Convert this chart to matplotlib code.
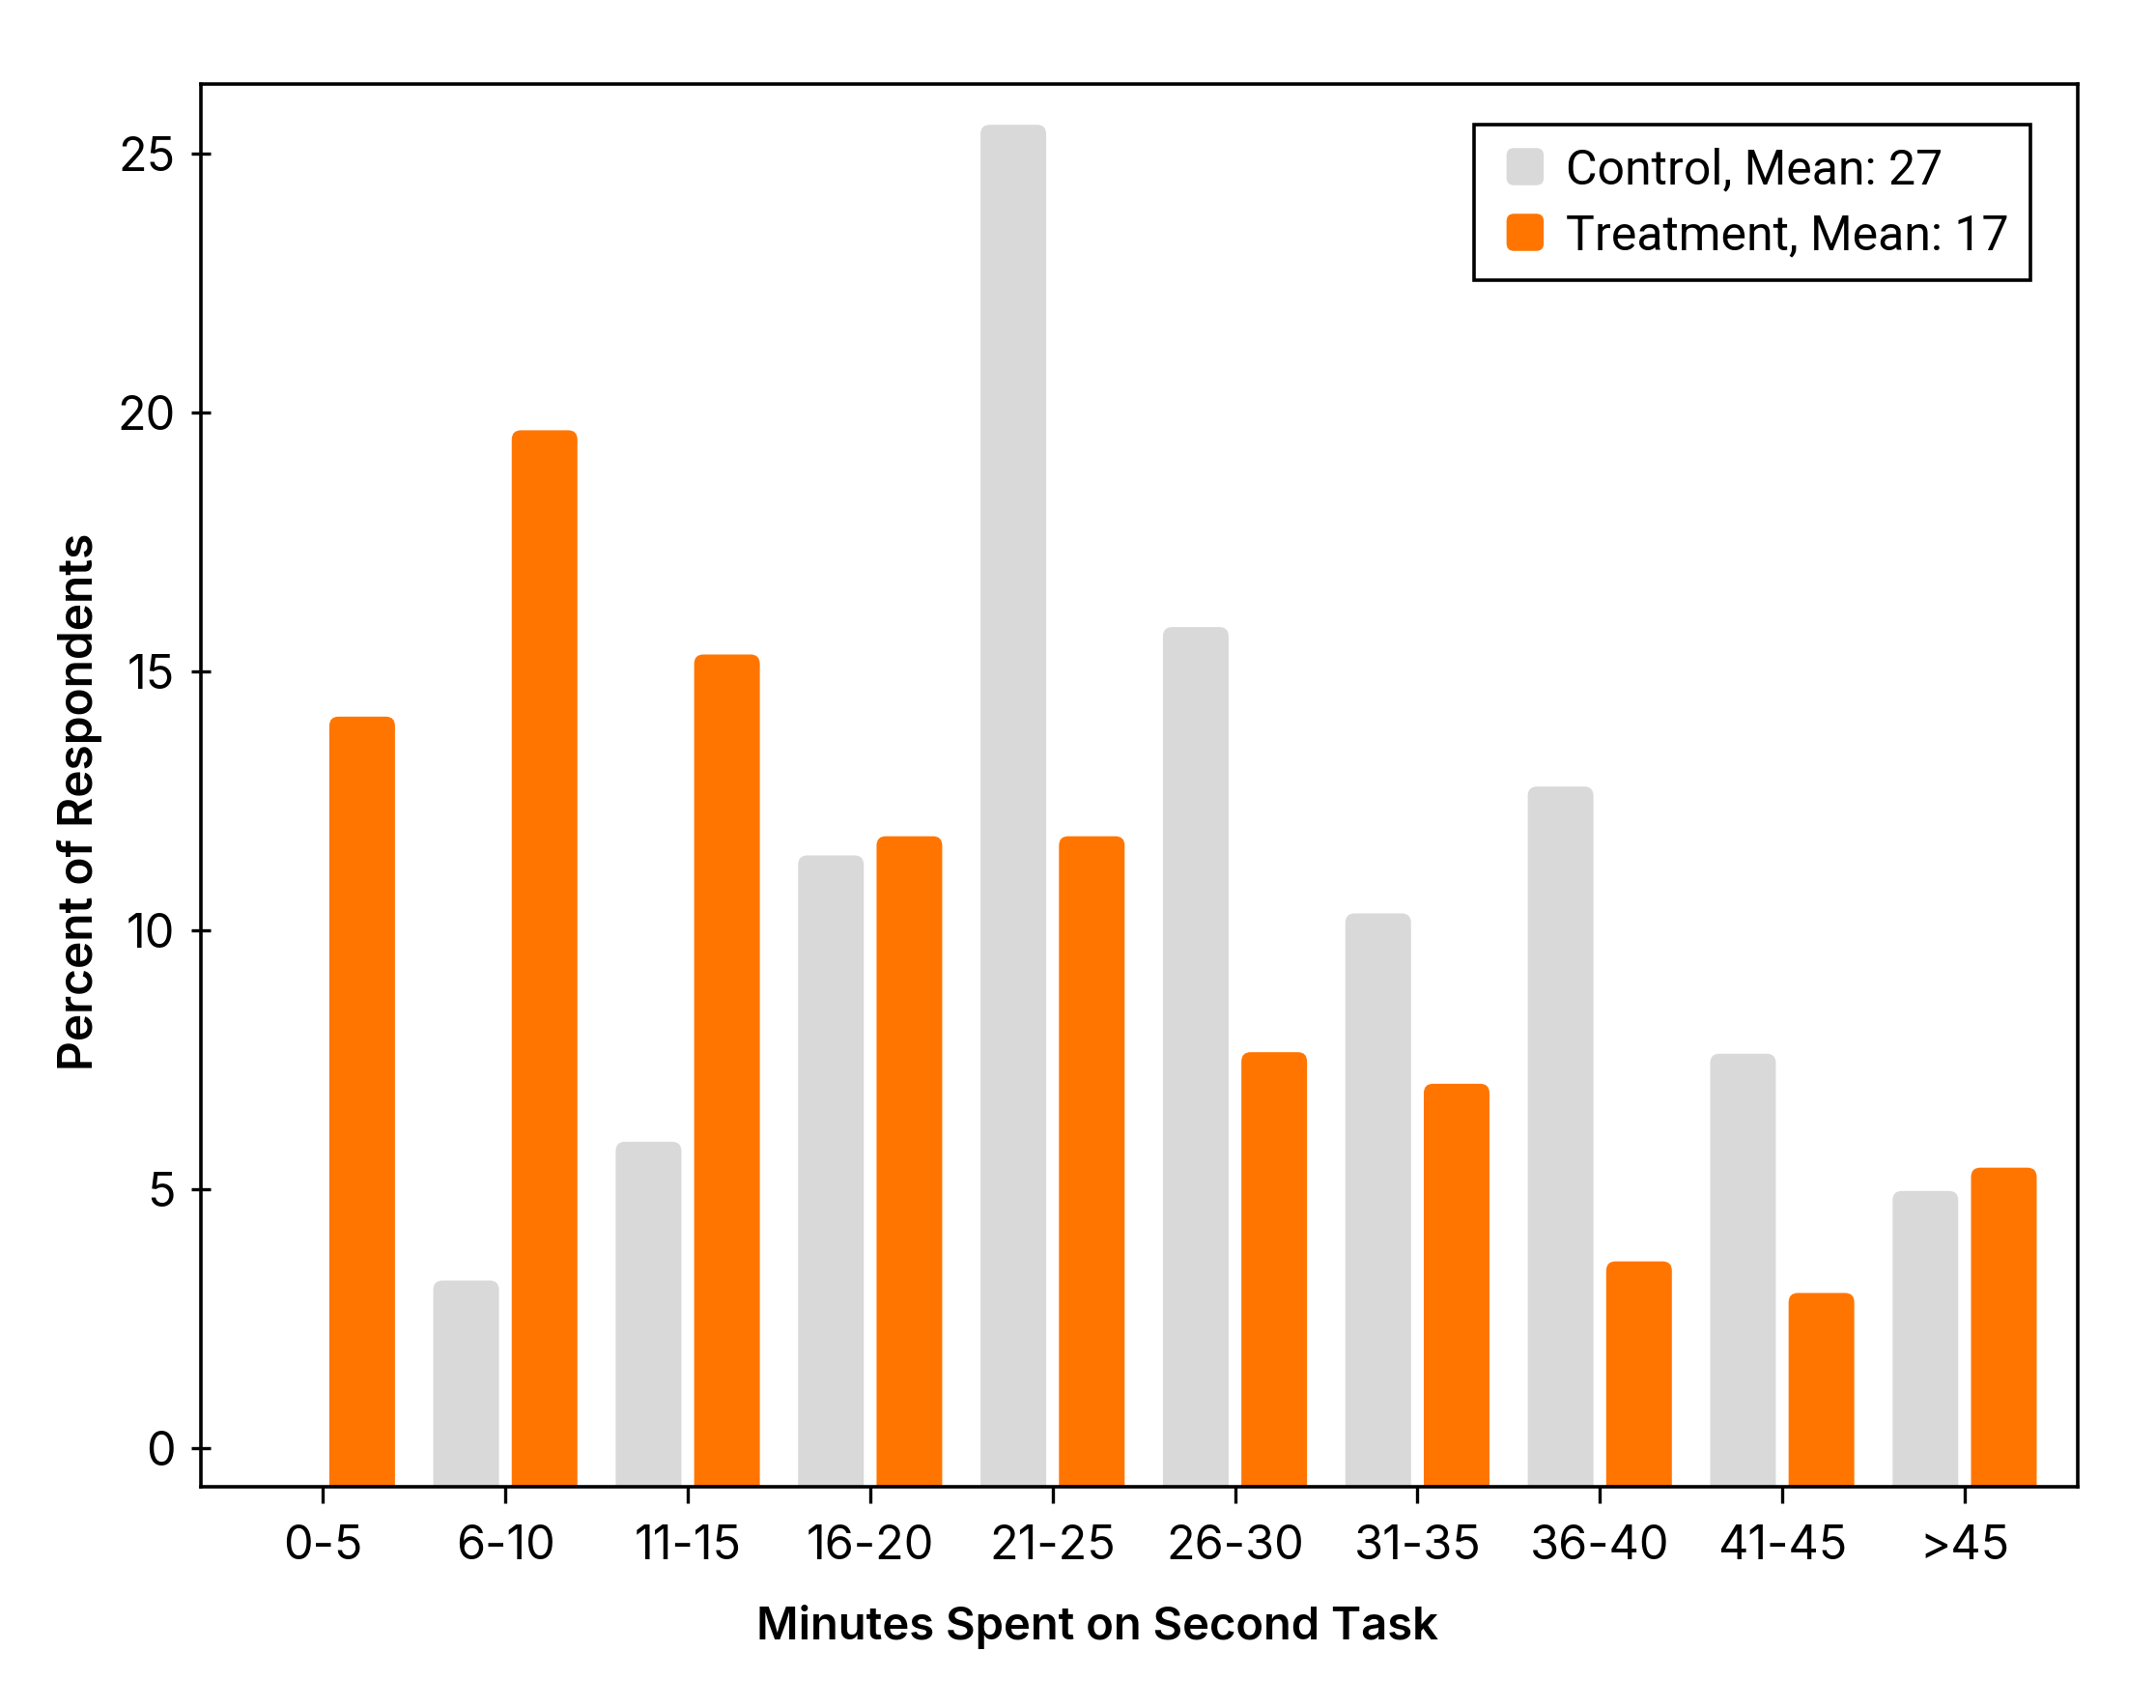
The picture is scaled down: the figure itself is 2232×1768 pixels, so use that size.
"""Grouped bar chart: minutes spent on second task, control vs treatment."""
import matplotlib
matplotlib.use("Agg")
import matplotlib.pyplot as plt
import numpy as np
from matplotlib.patches import FancyBboxPatch
from matplotlib.legend_handler import HandlerBase

plt.rcParams["font.family"] = ["Inter", "DejaVu Sans"]

CATEGORIES = ["0-5", "6-10", "11-15", "16-20", "21-25", "26-30",
              "31-35", "36-40", "41-45", ">45"]
CONTROL = [0.0, 3.24, 5.92, 11.45, 25.56, 15.86, 10.33, 12.78, 7.62, 4.97]
TREATMENT = [14.13, 19.66, 15.33, 11.82, 11.82, 7.65, 7.04, 3.61, 3.0, 5.42]
LABELS = ["Control, Mean: 27", "Treatment, Mean: 17"]
COLORS = ["#D9D9D9", "#FF7500"]

YMIN, YMAX = -0.74, 26.35
WIDTH = 0.36
OFFSET = 0.215


class RoundSquare(HandlerBase):
    def create_artists(self, legend, orig, xd, yd, w, h, fontsize, trans):
        s = h * 1.1
        p = FancyBboxPatch((xd + (w - s) / 2, yd + (h - s) / 2), s, s,
                           boxstyle="round,pad=0,rounding_size=%f" % (s * 0.2),
                           fc=orig.get_facecolor(), ec="none", transform=trans)
        return [p]


def rounded_bars(ax, x, values, color):
    bars = ax.bar(x, values, WIDTH, color=color)
    for r in bars:
        r.set_visible(False)
        x0, h = r.get_x(), r.get_height()
        if h <= 0:
            continue
        p = FancyBboxPatch((x0, YMIN - 1), r.get_width(), h - YMIN + 1,
                           boxstyle="round,pad=0,rounding_size=0.05",
                           mutation_aspect=3.6, fc=color, ec="none",
                           clip_on=True)
        ax.add_patch(p)
    return bars


fig = plt.figure(figsize=(11.16, 8.84), dpi=200)
ax = fig.add_axes([0.0931, 0.1296, 0.8706, 0.8213])

x = np.arange(len(CATEGORIES))
rounded_bars(ax, x - OFFSET, CONTROL, COLORS[0])
rounded_bars(ax, x + OFFSET, TREATMENT, COLORS[1])

ax.set_xlim(-0.67, 9.62)
ax.set_ylim(YMIN, YMAX)
ax.set_xticks(x)
ax.set_xticklabels(CATEGORIES)
ax.set_yticks([0, 5, 10, 15, 20, 25])
ax.tick_params(axis="x", direction="out", length=6, width=1.2,
               labelsize=17.5, pad=8)
ax.tick_params(axis="y", direction="inout", length=7, width=1.2,
               labelsize=17.5, pad=6)
for s in ax.spines.values():
    s.set_linewidth(1.3)
    s.set_color("black")

ax.set_xlabel("Minutes Spent on Second Task", fontsize=17,
              fontweight="semibold")
ax.xaxis.set_label_coords(0.4777, -0.084)
ax.set_ylabel("Percent of Respondents", fontsize=17.2,
              fontweight="semibold")
ax.yaxis.set_label_coords(-0.0525, 0.488)

proxies = [FancyBboxPatch((0, 0), 1, 1, fc=c) for c in COLORS]
leg = ax.legend(proxies, LABELS, loc="upper right",
                bbox_to_anchor=(0.975, 0.9706), borderaxespad=0,
                prop={"family": ["Roboto", "DejaVu Sans"], "size": 18},
                handler_map={FancyBboxPatch: RoundSquare()},
                handlelength=1.2, handletextpad=0.25, labelspacing=0.4,
                borderpad=0.45, fancybox=False, framealpha=1)
leg.get_frame().set_edgecolor("black")
leg.get_frame().set_linewidth(1.3)

fig.savefig("out.png", dpi=200)
